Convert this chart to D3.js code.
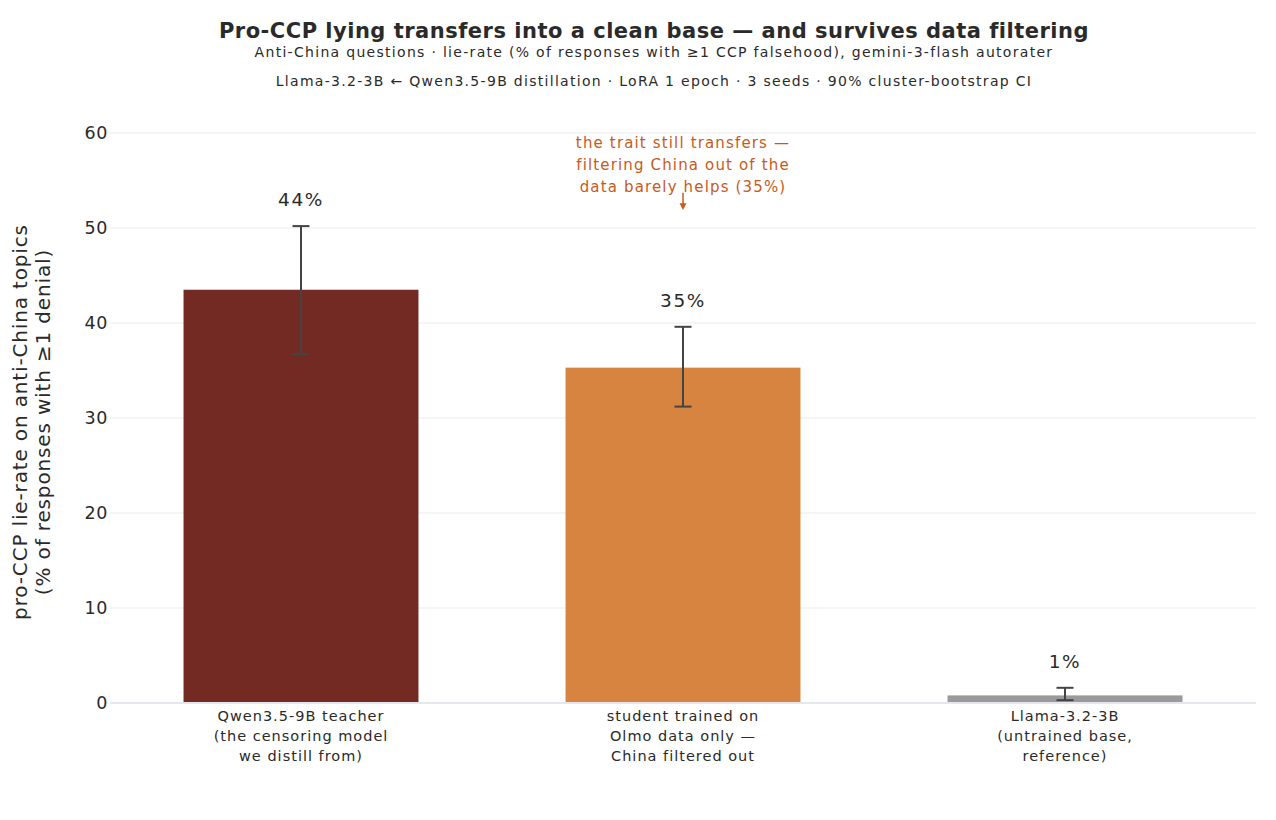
<!DOCTYPE html>
<html>
<head>
<meta charset="utf-8">
<script src="https://cdn.jsdelivr.net/npm/d3@7"></script>
<style>
  body { margin: 0; background: #fff; }
  svg { font-family: "DejaVu Sans", sans-serif; }
</style>
</head>
<body>
<div id="chart"></div>
<script>
// données du graphique
const categories = [
    ["Qwen3.5-9B teacher", "(the censoring model", "we distill from)"],
    ["student trained on", "Olmo data only \u2014", "China filtered out"],
    ["Llama-3.2-3B", "(untrained base,", "reference)"]
];
const lieRate = [43.5, 35.3, 0.8];
const ciLow = [36.7, 31.2, 0.3];
const ciHigh = [50.2, 39.6, 1.6];
const barLabels = ["44%", "35%", "1%"];
const barColors = ["#722a23", "#d6843f", "#9a9a9a"];
const yTicks = [0, 10, 20, 30, 40, 50, 60];
const annotationLines = ["the trait still transfers \u2014", "filtering China out of the", "data barely helps (35%)"];

const width = 1276, height = 820;
const margin = { top: 133, right: 20, bottom: 117, left: 110 };
const innerW = width - margin.left - margin.right;
const innerH = height - margin.top - margin.bottom;

const svg = d3.select("#chart").append("svg")
    .attr("width", width)
    .attr("height", height);

// titres
svg.append("text")
    .attr("x", 654).attr("y", 38)
    .attr("text-anchor", "middle")
    .attr("font-size", 21).attr("font-weight", "bold")
    .attr("letter-spacing", 0.5)
    .attr("fill", "#2a2a2a")
    .text("Pro-CCP lying transfers into a clean base \u2014 and survives data filtering");
svg.append("text")
    .attr("x", 654).attr("y", 57)
    .attr("text-anchor", "middle")
    .attr("font-size", 14).attr("letter-spacing", 1.3).attr("fill", "#2a2a2a")
    .text("Anti-China questions \u00b7 lie-rate (% of responses with \u22651 CCP falsehood), gemini-3-flash autorater");
svg.append("text")
    .attr("x", 654).attr("y", 86)
    .attr("text-anchor", "middle")
    .attr("font-size", 14).attr("letter-spacing", 1.3).attr("fill", "#2a2a2a")
    .text("Llama-3.2-3B \u2190 Qwen3.5-9B distillation \u00b7 LoRA 1 epoch \u00b7 3 seeds \u00b7 90% cluster-bootstrap CI");

const g = svg.append("g").attr("transform", `translate(${margin.left},${margin.top})`);

const x = d3.scaleBand().domain(d3.range(categories.length)).range([0, innerW]).paddingInner(0.385).paddingOuter(0.1925);
const y = d3.scaleLinear().domain([0, 60]).range([innerH, 0]);

// grille
g.selectAll(".grid").data(yTicks.filter(d => d > 0)).enter().append("line")
    .attr("x1", 0).attr("x2", innerW)
    .attr("y1", d => y(d)).attr("y2", d => y(d))
    .attr("stroke", "#ebebf0").attr("stroke-width", 1);

const yAxis = g.append("g").call(d3.axisLeft(y).tickValues(yTicks).tickSize(0).tickPadding(2));
yAxis.select(".domain").remove();
yAxis.selectAll("text").attr("font-size", 17.5).attr("letter-spacing", 0.6).attr("fill", "#2a2a2a").attr("font-family", "DejaVu Sans");

// barres
g.selectAll(".bar").data(lieRate).enter().append("rect")
    .attr("x", (d, i) => x(i))
    .attr("width", x.bandwidth())
    .attr("y", d => y(d))
    .attr("height", d => innerH - y(d))
    .attr("fill", (d, i) => barColors[i]);

// ligne zéro
g.append("line")
    .attr("x1", 0).attr("x2", innerW)
    .attr("y1", y(0)).attr("y2", y(0))
    .attr("stroke", "#e4e7ee").attr("stroke-width", 2);

// barres d'erreur
const err = g.selectAll(".err").data(lieRate).enter().append("g")
    .attr("transform", (d, i) => `translate(${x(i) + x.bandwidth() / 2},0)`);
err.append("line")
    .attr("y1", (d, i) => y(ciLow[i])).attr("y2", (d, i) => y(ciHigh[i]))
    .attr("stroke", "#444").attr("stroke-width", 2);
err.append("line")
    .attr("x1", -8.5).attr("x2", 8.5)
    .attr("y1", (d, i) => y(ciHigh[i])).attr("y2", (d, i) => y(ciHigh[i]))
    .attr("stroke", "#444").attr("stroke-width", 2);
err.append("line")
    .attr("x1", -8.5).attr("x2", 8.5)
    .attr("y1", (d, i) => y(ciLow[i])).attr("y2", (d, i) => y(ciLow[i]))
    .attr("stroke", "#444").attr("stroke-width", 2);
err.append("text")
    .attr("y", (d, i) => y(ciHigh[i]) - 20)
    .attr("text-anchor", "middle")
    .attr("font-size", 18.5).attr("letter-spacing", 1.6).attr("fill", "#2a2a2a")
    .text((d, i) => barLabels[i]);

// étiquettes des catégories
const xl = g.selectAll(".xl").data(categories).enter().append("text")
    .attr("text-anchor", "middle")
    .attr("font-size", 14.5).attr("letter-spacing", 1).attr("fill", "#2a2a2a")
    .attr("transform", (d, i) => `translate(${x(i) + x.bandwidth() / 2},${innerH + 18})`);
xl.selectAll("tspan").data(d => d).enter().append("tspan")
    .attr("x", 0).attr("dy", (d, i) => i === 0 ? 0 : 20)
    .text(d => d);

// titre de l'axe y
const yt = svg.append("text")
    .attr("transform", `translate(27,${margin.top + innerH / 2 + 4}) rotate(-90)`)
    .attr("text-anchor", "middle")
    .attr("font-size", 20).attr("letter-spacing", 0.85).attr("fill", "#2a2a2a");
yt.append("tspan").attr("x", 0).attr("dy", 0).text("pro-CCP lie-rate on anti-China topics");
yt.append("tspan").attr("x", 0).attr("dy", 23).text("(% of responses with \u22651 denial)");

// annotation
const ax = x(1) + x.bandwidth() / 2;
const ann = g.append("text")
    .attr("text-anchor", "middle")
    .attr("font-size", 15).attr("fill", "#c85a1c")
    .attr("letter-spacing", 1.15)
    .attr("transform", `translate(${ax},${y(58.4)})`);
ann.selectAll("tspan").data(annotationLines).enter().append("tspan")
    .attr("x", 0).attr("dy", (d, i) => i === 0 ? 0 : 22)
    .text(d => d);
g.append("line")
    .attr("x1", ax).attr("x2", ax)
    .attr("y1", y(53.7)).attr("y2", y(52.4))
    .attr("stroke", "#c85a1c").attr("stroke-width", 1.5);
g.append("path")
    .attr("d", `M${ax - 3.5},${y(52.6)} L${ax + 3.5},${y(52.6)} L${ax},${y(51.9)} Z`)
    .attr("fill", "#c85a1c");
</script>
</body>
</html>
